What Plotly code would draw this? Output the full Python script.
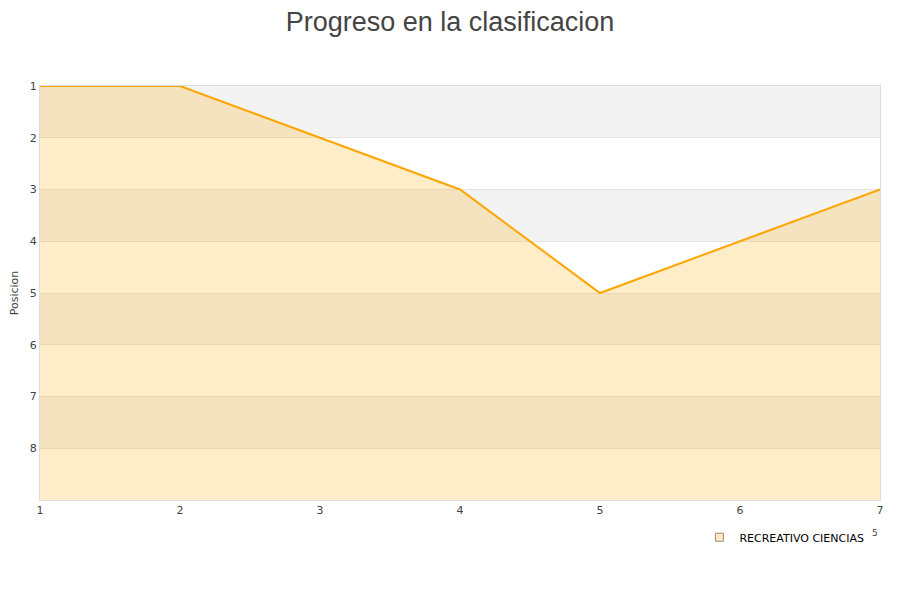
import plotly.graph_objects as go

# datos de la grafica
jornadas = [1, 2, 3, 4, 5, 6, 7]
posiciones = [1, 1, 2, 3, 5, 4, 3]
fondo = [9, 9, 9, 9, 9, 9, 9]
equipo = "RECREATIVO CIENCIAS"
ticks_y = [1, 2, 3, 4, 5, 6, 7, 8]
bandas_grises = [(1, 2), (3, 4), (5, 6), (7, 8)]

fig = go.Figure()

# linea base para rellenar hasta abajo
fig.add_trace(go.Scatter(
    x=jornadas, y=fondo, mode='lines',
    line=dict(width=0, color='rgba(0,0,0,0)'),
    showlegend=False, hoverinfo='skip'
))

fig.add_trace(go.Scatter(
    x=jornadas, y=posiciones, mode='lines',
    line=dict(color='#ffa500', width=2),
    fill='tonexty', fillcolor='rgba(255,165,0,0.21)',
    name=equipo, showlegend=False
))

# entrada de leyenda con cuadrado
fig.add_trace(go.Scatter(
    x=[None], y=[None], mode='markers',
    marker=dict(symbol='square', size=8, color='#fde9c8',
                line=dict(color='#a08a6a', width=1)),
    name=equipo
))

shapes = []
for y0, y1 in bandas_grises:
    shapes.append(dict(type='rect', xref='paper', yref='y', x0=0, x1=1,
                       y0=y0, y1=y1, fillcolor='#f3f3f3',
                       line=dict(width=0), layer='below'))

# el body de la pagina deja 8px de margen, se compensa en los margenes
fig.update_layout(
    width=900, height=600,
    title=dict(text='Progreso en la clasificacion', xref='container',
               x=442 / 900, xanchor='center', y=0.993, yanchor='top',
               pad=dict(t=0, b=0),
               font=dict(family='Liberation Sans', size=27, color='#444')),
    plot_bgcolor='white', paper_bgcolor='white',
    margin=dict(l=32, r=28, t=78, b=108, autoexpand=False),
    font=dict(family='DejaVu Sans', size=11, color='#444'),
    shapes=shapes,
    showlegend=True,
    legend=dict(orientation='h', x=0.785, y=-0.055, xanchor='left', yanchor='top',
                font=dict(size=11, color='black'), itemwidth=30),
    annotations=[dict(text='5', xref='paper', yref='paper',
                      x=1.0, y=-40 / 414,
                      showarrow=False, font=dict(size=9, color='#444'))]
)

fig.update_xaxes(range=[1, 7], tickvals=jornadas, showgrid=False,
                 showline=True, linecolor='#dddddd', mirror=True,
                 ticks='', zeroline=False, tickfont=dict(size=11, color='#444'))
fig.update_yaxes(range=[9, 1], tickvals=ticks_y, showgrid=True,
                 gridcolor='#e3e3e3', showline=True, linecolor='#dddddd',
                 mirror=True, zeroline=False, ticks='',
                 title=dict(text='Posicion', font=dict(size=11, color='#444'), standoff=13),
                 tickfont=dict(size=11, color='#444'))

fig.write_html("out.html")
